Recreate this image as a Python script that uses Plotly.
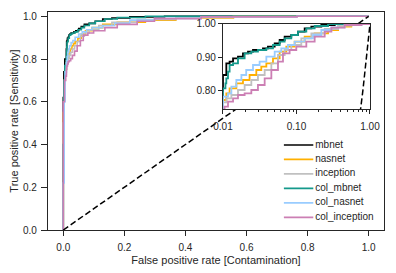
import plotly.graph_objects as go

# ---------------- data ----------------
names = ["mbnet", "nasnet", "inception", "col_mbnet", "col_nasnet", "col_inception"]
colors = ["#000000", "#ffb000", "#c0c0c0", "#14998b", "#99ccff", "#cc7fb4"]

mbnet_fpr = [0, 0, 0.002, 0.005, 0.0100, 0.0111, 0.0123, 0.0137, 0.0160, 0.0187, 0.0219, 0.0256,
             0.0350, 0.0409, 0.0505, 0.0590, 0.0690, 0.0850, 0.1048, 0.1292, 0.1592, 0.2178, 0.3317, 1.0]
mbnet_tpr = [0, 0.62, 0.74, 0.80, 0.847, 0.882, 0.887, 0.897, 0.902, 0.912, 0.917, 0.922,
             0.927, 0.932, 0.942, 0.952, 0.962, 0.967, 0.977, 0.987, 0.992, 0.997, 1.0, 1.0]

nasnet_fpr = [0, 0, 0.003, 0.006, 0.0100, 0.0111, 0.0123, 0.0152, 0.0187, 0.0230, 0.0284, 0.0332,
              0.0389, 0.0479, 0.0590, 0.0727, 0.0944, 0.1292, 0.1767, 0.2688, 0.3684, 0.5570, 1.0]
nasnet_tpr = [0, 0.55, 0.70, 0.75, 0.772, 0.792, 0.807, 0.822, 0.832, 0.847, 0.862, 0.872,
              0.882, 0.897, 0.917, 0.932, 0.947, 0.962, 0.972, 0.982, 0.992, 1.0, 1.0]

inception_fpr = [0, 0, 0.003, 0.006, 0.0100, 0.0111, 0.0130, 0.0160, 0.0197, 0.0243, 0.0299, 0.0369,
                 0.0455, 0.0560, 0.0690, 0.0850, 0.1163, 0.1592, 0.2420, 0.3684, 0.5570, 1.0]
inception_tpr = [0, 0.50, 0.68, 0.74, 0.765, 0.777, 0.787, 0.802, 0.817, 0.832, 0.847, 0.862,
                 0.882, 0.907, 0.922, 0.937, 0.957, 0.972, 0.985, 0.995, 1.0, 1.0]

col_mbnet_fpr = [0, 0, 0.002, 0.005, 0.0100, 0.0108, 0.0111, 0.0117, 0.0123, 0.0137, 0.0160, 0.0197,
                 0.0243, 0.0299, 0.0389, 0.0479, 0.0590, 0.0690, 0.0850, 0.1048, 0.1361, 0.1767, 0.2688, 1.0]
col_mbnet_tpr = [0, 0.40, 0.70, 0.77, 0.807, 0.822, 0.837, 0.857, 0.877, 0.882, 0.897, 0.912,
                 0.917, 0.922, 0.927, 0.937, 0.947, 0.957, 0.967, 0.977, 0.987, 0.994, 1.0, 1.0]

col_nasnet_fpr = [0, 0, 0.003, 0.006, 0.0100, 0.0117, 0.0130, 0.0152, 0.0178, 0.0207, 0.0256, 0.0315,
                  0.0389, 0.0505, 0.0621, 0.0765, 0.0944, 0.1292, 0.1677, 0.2178, 0.2986, 0.4515, 0.7652, 1.0]
col_nasnet_tpr = [0, 0.22, 0.60, 0.74, 0.782, 0.792, 0.812, 0.832, 0.847, 0.862, 0.877, 0.887,
                  0.902, 0.917, 0.927, 0.937, 0.947, 0.957, 0.967, 0.982, 0.990, 0.997, 1.0, 1.0]

col_inception_fpr = [0, 0, 0.004, 0.008, 0.0103, 0.0105, 0.0117, 0.0137, 0.0160, 0.0197, 0.0243, 0.0299,
                     0.0369, 0.0455, 0.0560, 0.0655, 0.0806, 0.0994, 0.1361, 0.1767, 0.2420, 0.2986,
                     0.4515, 0.7652, 1.0]
col_inception_tpr = [0, 0.60, 0.70, 0.72, 0.727, 0.752, 0.767, 0.777, 0.787, 0.792, 0.802, 0.817,
                     0.837, 0.862, 0.887, 0.912, 0.922, 0.932, 0.947, 0.962, 0.977, 0.989,
                     0.997, 1.0, 1.0]

chance = [0.0, 0.74, 0.8, 0.9, 1.0]   # diagonal y = x

main_xticks = [0.0, 0.2, 0.4, 0.6, 0.8, 1.0]
main_yticks = [0.0, 0.2, 0.4, 0.6, 0.8, 1.0]
inset_xticks = [0.01, 0.1, 1.0]
inset_xticktext = ["0.01", "0.10", "1.00"]
inset_yticks = [0.8, 0.9, 1.0]

series_fpr = [mbnet_fpr, nasnet_fpr, inception_fpr, col_mbnet_fpr, col_nasnet_fpr, col_inception_fpr]
series_tpr = [mbnet_tpr, nasnet_tpr, inception_tpr, col_mbnet_tpr, col_nasnet_tpr, col_inception_tpr]

# ---------------- figure ----------------
TXT = "#262626"
FONT = "Liberation Sans, Arial, sans-serif"

fig = go.Figure()

# main axes
for n, c, fx, ty in zip(names, colors, series_fpr, series_tpr):
    fig.add_trace(go.Scatter(x=fx, y=ty, mode="lines", name=n, line=dict(color=c, width=1.6, shape="hv"),
                             xaxis="x", yaxis="y", showlegend=False))
fig.add_trace(go.Scatter(x=chance, y=chance, mode="lines", line=dict(color="black", width=1.5, dash="6px,3px"),
                         xaxis="x", yaxis="y", showlegend=False))

# inset axes
for n, c, fx, ty in zip(names, colors, series_fpr, series_tpr):
    fig.add_trace(go.Scatter(x=fx, y=ty, mode="lines", name=n, line=dict(color=c, width=1.8, shape="hv"),
                             xaxis="x2", yaxis="y2", showlegend=False))
fig.add_trace(go.Scatter(x=chance, y=chance, mode="lines", line=dict(color="black", width=1.5, dash="6px,3px"),
                         xaxis="x2", yaxis="y2", showlegend=False))

# legend (drawn as its own small categorical axes)
fig.add_trace(go.Scatter(x=[0.18] * len(names), y=names, mode="markers",
                         marker=dict(symbol="line-ew", size=21, line=dict(color=colors, width=1.7)),
                         xaxis="x3", yaxis="y3", showlegend=False, hoverinfo="skip"))
fig.add_trace(go.Scatter(x=[0.34] * len(names), y=names, mode="text", text=names,
                         textposition="middle right", textfont=dict(size=10, color=TXT, family=FONT),
                         xaxis="x3", yaxis="y3", showlegend=False, hoverinfo="skip"))

axis_common = dict(showline=True, mirror=True, linecolor=TXT, linewidth=1.2, showgrid=False, zeroline=False,
                   automargin=False, ticks="outside", tickcolor=TXT,
                   tickfont=dict(size=10, color=TXT, family=FONT))

# page body has an 8px margin, so the figure is sized/offset to fill the 396x273 window
fig.update_layout(
    template="none",
    width=388, height=265,
    margin=dict(l=40, r=12, t=4, b=43, autoexpand=False),
    paper_bgcolor="white", plot_bgcolor="white",
    font=dict(family=FONT, color=TXT, size=10),
    xaxis=dict(domain=[0, 1], range=[-0.05, 1.05], tickvals=main_xticks, tickformat=".1f", ticklen=5,
               ticklabelstandoff=3,
               title=dict(text="False positive rate [Contamination]", font=dict(size=11), standoff=4),
               **axis_common),
    yaxis=dict(domain=[0, 1], range=[0, 1.02], tickvals=main_yticks, tickformat=".1f", ticklen=6,
               ticklabelstandoff=2,
               title=dict(text="True positive rate [Sensitivity]", font=dict(size=11), standoff=6),
               **axis_common),
    xaxis2=dict(domain=[0.5208, 0.9583], anchor="y2", type="log", range=[-2, 0], tickvals=inset_xticks,
                ticktext=inset_xticktext, ticklen=4, ticklabelstandoff=4,
                minor=dict(ticks="outside", ticklen=2, tickcolor=TXT, dtick="D1", showgrid=False),
                **axis_common),
    yaxis2=dict(domain=[0.555, 0.945], anchor="x2", range=[0.745, 1.0], tickvals=inset_yticks,
                tickformat=".2f", ticklen=4, **axis_common),
    xaxis3=dict(domain=[0.690, 1.0], anchor="y3", range=[0, 1], visible=False, fixedrange=True),
    yaxis3=dict(domain=[0.0252, 0.423], anchor="x3", type="category", categoryorder="array",
                categoryarray=names, range=[5.5, -0.5], visible=False, fixedrange=True),
)

fig.write_html("out.html")
